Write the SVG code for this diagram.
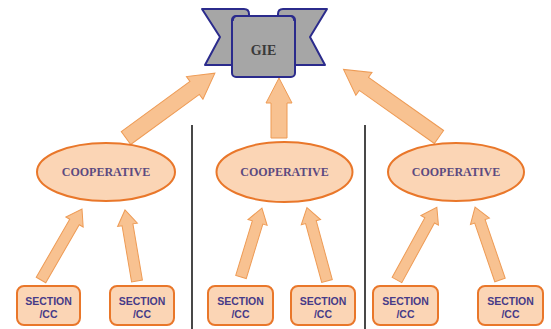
<svg xmlns="http://www.w3.org/2000/svg" width="551" height="329" viewBox="0 0 551 329">
<style>
.ell{fill:#fbd5b5;stroke:#e9772a;stroke-width:2}
.box{fill:#fbd5b5;stroke:#e9772a;stroke-width:2}
.arr{fill:#f8c291;stroke:#ee9b55;stroke-width:1}
.coop{font-family:"Liberation Serif",serif;font-weight:bold;font-size:12px;fill:#5b4a80;text-anchor:middle}
.sec{font-family:"Liberation Sans",Arial,sans-serif;font-weight:bold;font-size:10.5px;fill:#463b88;text-anchor:middle}
.div{stroke:#1a1a1a;stroke-width:1.6}
.rib{fill:#a6a6a6;stroke:#2b2b8c;stroke-width:2;stroke-linejoin:round}
</style>
<rect width="551" height="329" fill="#ffffff"/>
<g id="dividers">
<line class="div" x1="192" y1="125" x2="192" y2="329"/>
<line class="div" x1="365" y1="125" x2="365" y2="329"/>
</g>
<g id="connectors">
<path class="arr" transform="translate(126,138) rotate(-36.1)" d="M0,-8 L85,-8 L85,-14 L110,0 L85,14 L85,8 L0,8 Z"/>
<path class="arr" transform="translate(279,138) rotate(-90)" d="M0,-8 L35,-8 L35,-13 L60,0 L35,13 L35,8 L0,8 Z"/>
<path class="arr" transform="translate(439,137) rotate(-144.7)" d="M0,-8 L92,-8 L92,-14 L117,0 L92,14 L92,8 L0,8 Z"/>
<path class="arr" transform="translate(41,280) rotate(-60)" d="M0,-5.5 L67,-5.5 L67,-10 L82,0 L67,10 L67,5.5 L0,5.5 Z"/>
<path class="arr" transform="translate(137,281) rotate(-99.6)" d="M0,-5.5 L57,-5.5 L57,-10 L72,0 L57,10 L57,5.5 L0,5.5 Z"/>
<path class="arr" transform="translate(241,277) rotate(-73.1)" d="M0,-5.5 L57,-5.5 L57,-10 L72,0 L57,10 L57,5.5 L0,5.5 Z"/>
<path class="arr" transform="translate(327,281) rotate(-105.3)" d="M0,-5.5 L61,-5.5 L61,-10 L76,0 L61,10 L61,5.5 L0,5.5 Z"/>
<path class="arr" transform="translate(397,280) rotate(-61.3)" d="M0,-5.5 L68,-5.5 L68,-10 L83,0 L68,10 L68,5.5 L0,5.5 Z"/>
<path class="arr" transform="translate(500,280) rotate(-108.9)" d="M0,-5.5 L62,-5.5 L62,-10 L77,0 L62,10 L62,5.5 L0,5.5 Z"/>
</g>
<g id="gie">
<path class="rib" d="M202,9 L244,9 Q249,9 249,14 L249,65 L205,65 L220,37 Z"/>
<path class="rib" d="M327,9 L283,9 Q278,9 278,14 L278,65 L325,65 L310,37 Z"/>
<rect class="rib" x="232" y="16" width="63" height="61" rx="4"/>
<path d="M233,21 Q233,16 238,16 L248,16" fill="none" stroke="#2b2b8c" stroke-width="1.5"/>
<path d="M294,21 Q294,16 289,16 L279,16" fill="none" stroke="#2b2b8c" stroke-width="1.5"/>
<text x="263.5" y="55" font-family="Liberation Serif,serif" font-weight="bold" font-size="14" fill="#3a3a3a" text-anchor="middle">GIE</text>
</g>
<g id="coop1"><ellipse class="ell" cx="106" cy="172" rx="69" ry="29"/><text class="coop" x="106" y="176">COOPERATIVE</text></g>
<g id="coop2"><ellipse class="ell" cx="284.5" cy="172" rx="68" ry="30"/><text class="coop" x="284.5" y="176">COOPERATIVE</text></g>
<g id="coop3"><ellipse class="ell" cx="456" cy="172" rx="68" ry="29"/><text class="coop" x="456" y="176">COOPERATIVE</text></g>
<g id="sec1"><rect class="box" x="17" y="286" width="63" height="39" rx="7"/><text class="sec" x="48.5" y="305">SECTION</text><text class="sec" x="48.5" y="318">/CC</text></g>
<g id="sec2"><rect class="box" x="110" y="286" width="64" height="39" rx="7"/><text class="sec" x="142" y="305">SECTION</text><text class="sec" x="142" y="318">/CC</text></g>
<g id="sec3"><rect class="box" x="208" y="286" width="65" height="39" rx="7"/><text class="sec" x="240.5" y="305">SECTION</text><text class="sec" x="240.5" y="318">/CC</text></g>
<g id="sec4"><rect class="box" x="291" y="286" width="64" height="39" rx="7"/><text class="sec" x="323" y="305">SECTION</text><text class="sec" x="323" y="318">/CC</text></g>
<g id="sec5"><rect class="box" x="373" y="286" width="65" height="39" rx="7"/><text class="sec" x="405.5" y="305">SECTION</text><text class="sec" x="405.5" y="318">/CC</text></g>
<g id="sec6"><rect class="box" x="478" y="286" width="65" height="39" rx="7"/><text class="sec" x="510.5" y="305">SECTION</text><text class="sec" x="510.5" y="318">/CC</text></g>
</svg>
